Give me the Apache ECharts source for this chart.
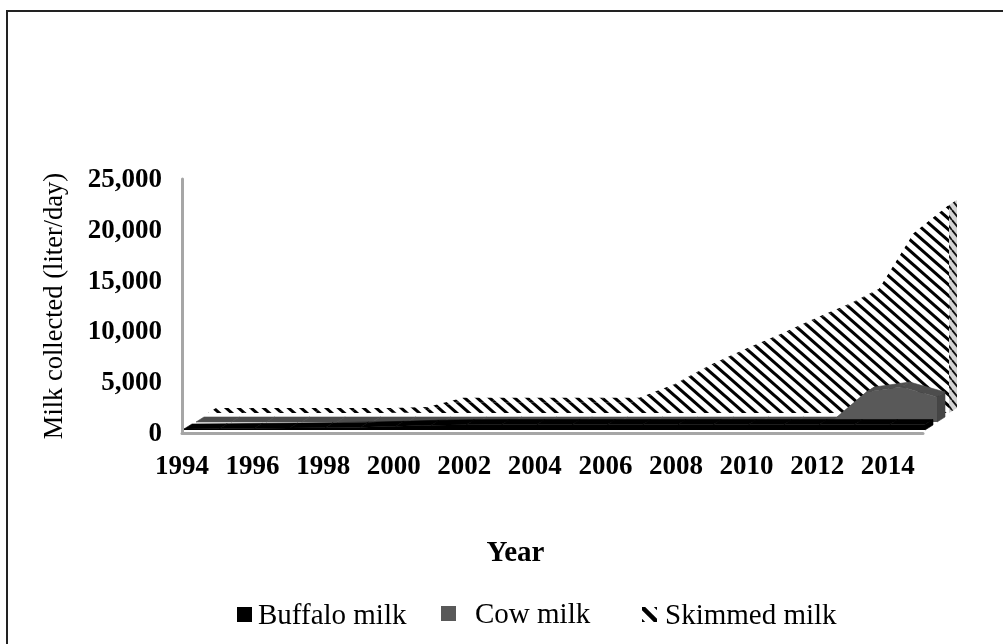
<!DOCTYPE html>
<html><head><meta charset="utf-8">
<style>html,body{margin:0;padding:0;background:#fff}#c{width:1003px;height:644px}</style>
<script src="https://cdn.jsdelivr.net/npm/echarts@6/dist/echarts.min.js"></script>
</head><body><div id="c"></div>
<script>
const years=['1994','1995','1996','1997','1998','1999','2000','2001','2002','2003','2004','2005','2006','2007','2008','2009','2010','2011','2012','2013','2014','2015'];
const buffaloMilk=[100,130,160,190,230,280,360,470,520,530,530,530,530,530,530,530,530,530,530,530,530,530];
const cowMilk=[0,0,0,0,0,0,0,0,0,0,0,0,0,0,0,0,0,0,0,2950,3440,2460];
const skimmedMilk=[0,0,0,0,0,0,100,1000,1000,1000,1000,1000,1000,2360,4230,5800,7280,8860,10330,12100,17700,20470];
const yMax=25000, yStep=5000;
const FONT='"Liberation Serif","Times New Roman",serif';
function hatch(w,h,n,bg,lw){
  const c=document.createElement('canvas');c.width=w;c.height=h;
  const g=c.getContext('2d');g.fillStyle=bg;g.fillRect(0,0,w,h);
  g.strokeStyle='#000';g.lineWidth=lw;
  for(let k=-2*n;k<=2*n;k++){const o=k*h/n;g.beginPath();g.moveTo(-w,o-h);g.lineTo(2*w,o+2*h);g.stroke();}
  return {image:c,repeat:'repeat'};
}
const hatchFront=hatch(25,22,2,'#fff',3.1);
const hatchSide=(function(){
  const c=document.createElement('canvas');c.width=8;c.height=10;
  const g=c.getContext('2d');g.fillStyle='#d4d4d4';g.fillRect(0,0,8,10);
  g.strokeStyle='#111';g.lineWidth=1.8;
  for(const o of[-8,0,8]){g.beginPath();g.moveTo(o,0);g.lineTo(o+8,10);g.stroke();}
  return {image:c,repeat:'repeat'};
})();
const legendHatch=hatch(15,15,1,'#fff',4.5);
const depth=[8,-5];
function extrude(vals,idx,top,side){
  return {type:'custom',xAxisIndex:idx,yAxisIndex:idx,z:2+(3-idx)*2,silent:true,clip:false,
    data:vals.map((v,i)=>[i,v]),
    encode:{x:0,y:1},animation:false,
    renderItem:function(p,api){
      const i=api.value(0),a=api.coord([i,api.value(1)]),ch=[];
      const sh=pts=>pts.map(q=>[q[0]+depth[0],q[1]+depth[1]]);
      const st=f=>typeof f==='string'?{fill:f,stroke:f,lineWidth:0.6}:{fill:f};
      if(i<vals.length-1){
        const b=api.coord([i+1,vals[i+1]]);
        ch.push({type:'polygon',shape:{points:[a,b].concat(sh([b,a]))},style:st(top)});
      } else {
        const o=api.coord([i,0]);
        ch.push({type:'polygon',shape:{points:[a,o].concat(sh([o,a]))},style:st(side)});
      }
      return {type:'group',children:ch};
    }};
}
function front(name,vals,idx,fill){
  return {name:name,type:'line',xAxisIndex:idx,yAxisIndex:idx,z:3+(3-idx)*2,data:vals,showSymbol:false,silent:true,
    lineStyle:{width:0},itemStyle:{color:fill},areaStyle:{color:fill,opacity:1},animation:false};
}
const grids=[{left:182,width:741,top:179,height:254},
             {left:184,width:741,top:176,height:254},
             {left:196,width:741,top:168,height:254},
             {left:208,width:741,top:159,height:254}];
const raisedIcon='path://M0 0H15V15H0ZM0 19H0Z';
const legendBase={top:602,padding:0,itemWidth:15,itemHeight:19,icon:raisedIcon,textStyle:{fontFamily:FONT,fontSize:29,color:'#000'}};
const chart=echarts.init(document.getElementById('c'),null,{renderer:'canvas'});
chart.setOption({
  animation:false,backgroundColor:'#fff',
  graphic:[
    {type:'line',shape:{x1:7,y1:10,x2:7,y2:644},style:{stroke:'#222',lineWidth:2},silent:true},
    {type:'line',shape:{x1:6,y1:11,x2:1003,y2:11},style:{stroke:'#222',lineWidth:2},silent:true}],
  grid:grids,
  xAxis:grids.map((g,i)=>i===0?{gridIndex:0,type:'category',data:years,boundaryGap:false,
      name:'Year',nameLocation:'middle',nameGap:106,
      nameTextStyle:{fontFamily:FONT,fontSize:29,fontWeight:'bold',color:'#000',padding:[0,74,0,0]},
      axisLine:{lineStyle:{color:'#a6a6a6',width:3}},axisTick:{show:false},
      axisLabel:{interval:1,margin:21,fontFamily:FONT,fontSize:27,fontWeight:'bold',color:'#000'},z:1}
    :{gridIndex:i,type:'category',data:years,boundaryGap:false,show:false}),
  yAxis:grids.map((g,i)=>i===0?{gridIndex:0,type:'value',min:0,max:yMax,interval:yStep,
      name:'Milk collected (liter/day)',nameLocation:'middle',nameGap:113,nameRotate:90,
      nameTextStyle:{fontFamily:FONT,fontSize:26.5,color:'#000'},
      axisLine:{show:true,lineStyle:{color:'#a6a6a6',width:3}},axisTick:{show:false},splitLine:{show:false},
      axisLabel:{margin:20,verticalAlign:'top',lineHeight:2,fontFamily:FONT,fontSize:27,fontWeight:'bold',color:'#000',
        formatter:v=>v.toLocaleString('en-US')},z:1}
    :{gridIndex:i,type:'value',min:0,max:yMax,interval:yStep,show:false,splitLine:{show:false}}),
  legend:[
    Object.assign({},legendBase,{left:237,data:[{name:'Buffalo milk',textStyle:{padding:[0,0,0,1]}}]}),
    Object.assign({},legendBase,{left:441,top:601,data:[{name:'Cow milk',textStyle:{padding:[0,0,0,14]}}]}),
    Object.assign({},legendBase,{left:642,data:[{name:'Skimmed milk',itemStyle:{color:legendHatch},textStyle:{padding:[0,0,0,3]}}]})
  ],
  series:[
    extrude(skimmedMilk,3,hatchFront,hatchSide),
    front('Skimmed milk',skimmedMilk,3,hatchFront),
    extrude(cowMilk,2,'#4d4d4d','#454545'),
    front('Cow milk',cowMilk,2,'#595959'),
    extrude(buffaloMilk,1,'#000','#000'),
    front('Buffalo milk',buffaloMilk,1,'#000')
  ]
});
</script></body></html>
